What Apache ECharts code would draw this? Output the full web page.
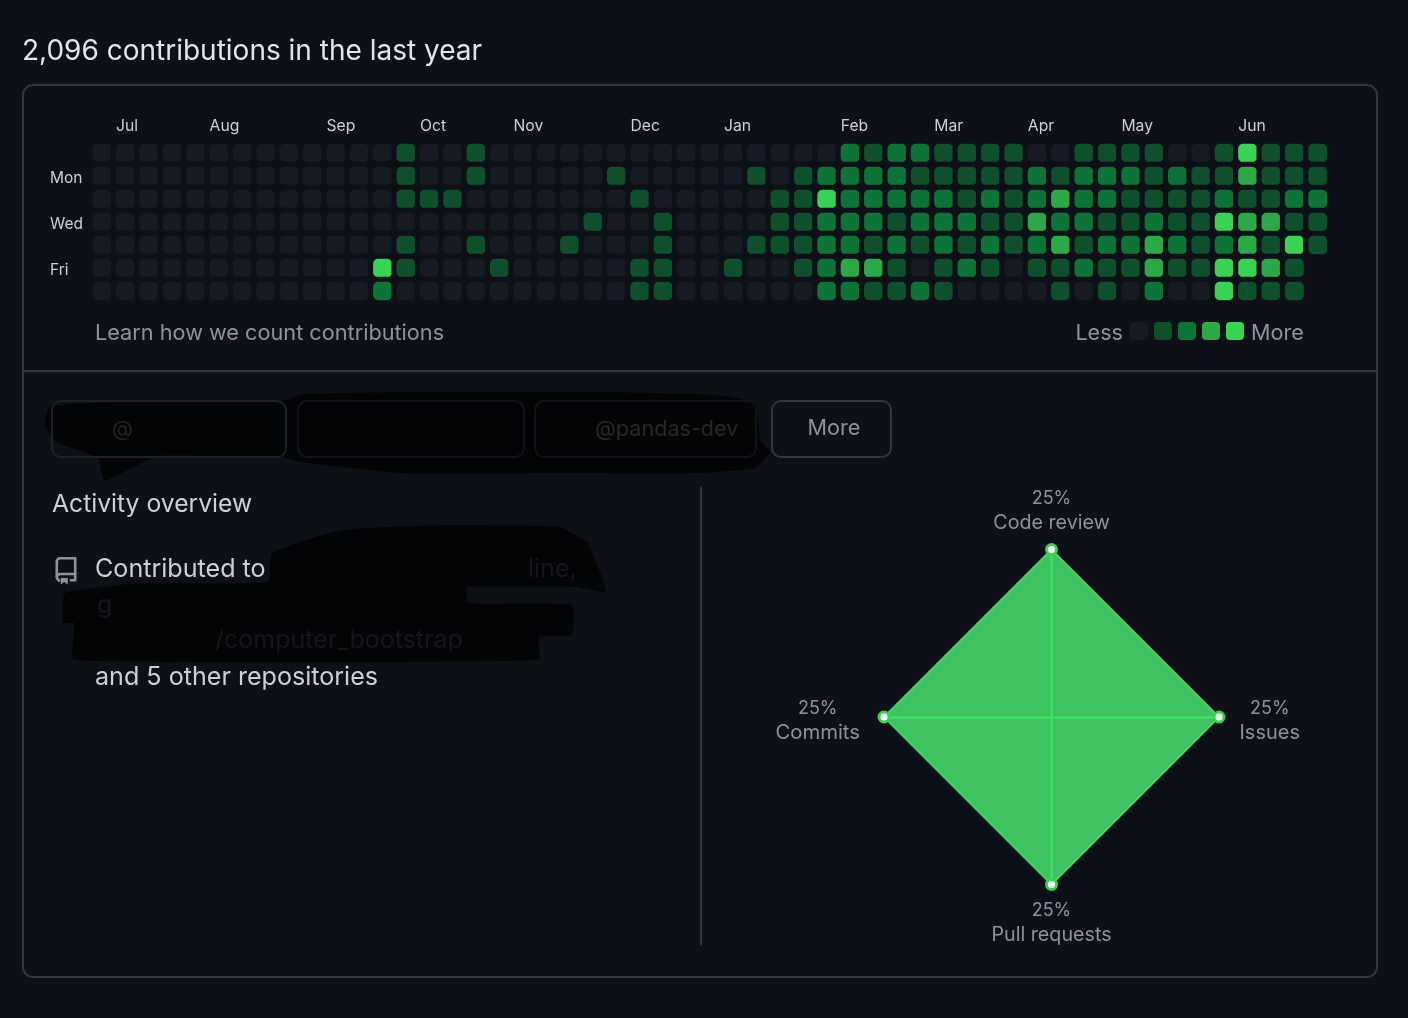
<!DOCTYPE html>
<html><head><meta charset="utf-8">
<style>html,body{margin:0;padding:0;background:#0d1117}#c{width:1408px;height:1018px}</style>
<script src="https://cdn.jsdelivr.net/npm/echarts@6/dist/echarts.min.js"></script>
</head><body><div id="c"></div>
<script>
const monthStarts = {1:'Jul',5:'Aug',10:'Sep',14:'Oct',18:'Nov',23:'Dec',27:'Jan',32:'Feb',36:'Mar',40:'Apr',44:'May',49:'Jun'};
const dayLabels = ['', 'Mon', '', 'Wed', '', 'Fri', ''];
const levelColors = ['#161a21', '#0e4f2c', '#0b7436', '#2aa946', '#39d353'];
// one digit (contribution level) per week; '.' = no cell
const sunLevels = '0000000000000'+'1001'+'000000000000000'+'212'+'211110011110014111';
const monLevels = '0000000000000'+'1001'+'00000'+'1'+'00000'+'1'+'0'+'1'+'2222'+'111112122212113111';
const tueLevels = '0000000000000'+'111'+'0000000'+'1'+'00000'+'114222'+'221212322111121122';
const wedLevels = '000000000000000000000'+'1'+'00'+'1'+'0000'+'112221'+'222113221121143311';
const thuLevels = '0000000000000'+'1'+'00'+'1'+'000'+'1'+'000'+'1'+'000'+'1112212'+'121212312232123141';
const friLevels = '000000000000'+'41'+'000'+'1'+'00000'+'11'+'00'+'1'+'00'+'12331'+'01210112113114431'+'.';
const satLevels = '000000000000'+'2'+'0000000000'+'11'+'000000'+'2211'+'21000010102004111'+'.';
const levelRows = [sunLevels, monLevels, tueLevels, wedLevels, thuLevels, friLevels, satLevels];
const activityNames = ['Code review', 'Commits', 'Pull requests', 'Issues'];
const activityValues = [25, 25, 25, 25];

const weeks = Array.from({length: 53}, (_, i) => String(i));
const cells = [];
levelRows.forEach((row, d) => [...row].forEach((ch, w) => { if (ch !== '.') cells.push([w, d, +ch]); }));

const FONT = 'Inter';
const DIM = '#8b949e', LIGHT = '#c9d1d9', LINE = '#30363d', BG = '#0d1117', INK = '#030406', FAINT = '#141619';
const txt = (text, x, y, size, fill, align) => ({type: 'text', z: 10, x, y,
  style: {text, font: `400 ${size}px ${FONT}`, fill, textAlign: align || 'left', textVerticalAlign: 'middle'}});
const box = (x, y, w, h, r, stroke, z) => ({type: 'rect', z: z || 1,
  shape: {x, y, width: w, height: h, r}, style: {fill: 'transparent', stroke, lineWidth: 2}});
const hline = (x1, y1, x2, y2) => ({type: 'line', z: 1,
  shape: {x1, y1, x2, y2}, style: {stroke: LINE, lineWidth: 2}});
const blob = (points) => ({type: 'polygon', z: 5, shape: {points, smooth: 0.12}, style: {fill: INK}});
const iconLine = (points) => ({type: 'polyline', z: 10, shape: {points}, style: {stroke: DIM, lineWidth: 2.6, fill: 'transparent', lineJoin: 'round', lineCap: 'round'}});
const legendBoxes = levelColors.map((c, i) => ({type: 'rect', z: 10,
  shape: {x: 1130 + i * 24, y: 322, width: 18, height: 18, r: 4}, style: {fill: c}}));

const option = {
  backgroundColor: BG,
  animation: false,
  textStyle: {fontFamily: FONT},
  grid: {left: 90.3, top: 141.5, width: 1239.1, height: 161, containLabel: false},
  xAxis: {type: 'category', position: 'top', data: weeks, splitArea: {show: false},
    axisLine: {show: false}, axisTick: {show: false},
    axisLabel: {interval: 0, margin: 7, color: LIGHT, fontSize: 15.7, align: 'left', padding: [0, 0, 0, -9.3],
      formatter: (v) => monthStarts[v] || ''}},
  yAxis: {type: 'category', inverse: true, data: dayLabels.map((d, i) => i + ':' + d), splitArea: {show: false},
    axisLine: {show: false}, axisTick: {show: false},
    axisLabel: {interval: 0, margin: 40.3, align: 'left',
      formatter: (v) => { const d = v.split(':')[1]; return d ? `{d|${d}}` : ''; },
      rich: {d: {fontFamily: FONT, color: LIGHT, fontSize: 15.5, padding: [4, 0, 0, 0]}}}},
  visualMap: {show: false, type: 'piecewise', seriesIndex: 0, dimension: 2,
    pieces: levelColors.map((color, value) => ({value, color}))},
  radar: {center: [1051.5, 717], radius: 167.5, startAngle: 90, splitNumber: 1, shape: 'polygon',
    indicator: activityNames.map((name) => ({name, min: 0, max: 25})),
    axisLine: {lineStyle: {color: '#22ff55', width: 2.5}},
    splitLine: {show: false}, splitArea: {show: false}, axisTick: {show: false}, axisLabel: {show: false},
    nameGap: 14.5,
    axisName: {
      formatter: (n) => n === 'Commits' ? `{sp| }\n{p|25%}\n{nc|${n}}`
        : n === 'Issues' ? `{sp| }\n{p|25%}\n{ni|${n}}` : `{p|25%}\n{n|${n}}`,
      rich: {sp: {fontSize: 1, lineHeight: 7},
             p: {fontFamily: FONT, fontSize: 18, color: DIM, lineHeight: 24, align: 'center'},
             n: {fontFamily: FONT, fontSize: 19.7, color: DIM, lineHeight: 24, align: 'center'},
             nc: {fontFamily: FONT, fontSize: 20.3, color: DIM, lineHeight: 24, align: 'center', padding: [0, 9.5, 0, 9.5]},
             ni: {fontFamily: FONT, fontSize: 20, color: DIM, lineHeight: 24, align: 'center', padding: [0, 6, 0, 6]}}}},
  series: [
    {type: 'heatmap', data: cells, progressive: 0,
     itemStyle: {borderColor: BG, borderWidth: 5, borderRadius: 7.5},
     emphasis: {disabled: true}},
    {type: 'radar', symbol: 'circle', symbolSize: 10, silent: true,
     data: [{value: activityValues}],
     itemStyle: {color: '#ffffff', borderColor: '#39d353', borderWidth: 3},
     lineStyle: {color: '#40c463', width: 2},
     areaStyle: {color: 'rgb(71,220,109)', opacity: 0.88}}
  ],
  graphic: {elements: [
    txt('2,096 contributions in the last year', 22, 52, 28, '#e1e6eb'),
    box(23, 85, 1354, 892, 10, LINE),
    hline(24, 371, 1376, 371),
    hline(701, 487, 701, 945),
    txt('Learn how we count contributions', 95, 333, 21.7, DIM),
    txt('Less', 1123, 333, 21.6, DIM, 'right'),
    txt('More', 1251, 333, 21.6, DIM),
    ...legendBoxes,
    box(772, 401, 119, 56, 9, LINE),
    txt('More', 834, 428, 21.6, DIM, 'center'),
    blob([[50,406],[180,400],[290,400],[300,394],[420,392],[600,392],[720,395],[756,404],[760,440],[770,452],[755,468],[700,473],[560,473],[400,473],[300,462],[280,456],[200,456],[158,456],[128,470],[104,481],[98,458],[56,442],[45,425]]),
    box(52, 401, 234, 56, 9, '#1d2024', 6),
    box(298, 401, 226, 56, 9, '#111316', 6),
    box(535, 401, 221, 56, 9, '#111316', 6),
    txt('@', 112, 429, 21.6, '#222426'),
    txt('@pandas-dev', 595, 429, 21.6, '#26282a'),
    txt('Activity overview', 52, 505, 24.7, LIGHT),
    iconLine([[70.8,580.2],[75.2,580.2],[75.2,558.3],[60,558.3],[57.8,559],[56.8,561],[56.8,577],[57.5,579],[59,580.5]]),
    iconLine([[75.2,574],[60,574],[57.5,575],[56.8,577]]),
    {type: 'polygon', z: 10, shape: {points: [[60.75,578],[67.75,578],[67.75,584.5],[64.25,582],[60.75,584.5]]}, style: {fill: DIM}},
    txt('Contributed to', 95, 569, 25.1, LIGHT),
    blob([[272,553],[341,530],[450,525],[559,527],[588,543],[606,592],[577,587],[468,587],[468,603],[572,605],[572,635],[539,637],[539,660],[74,660],[74,623],[63,623],[65,593],[141,583],[268,582]]),
    txt('line,', 528, 569, 25, FAINT),
    txt('g', 97, 605, 25, FAINT),
    txt('/computer_bootstrap', 215, 640, 25, FAINT),
    txt('and 5 other repositories', 95, 677, 25.1, LIGHT)
  ]}
};
const chart = echarts.init(document.getElementById('c'), null, {renderer: 'canvas'});
chart.setOption(option);
</script>
</body></html>
